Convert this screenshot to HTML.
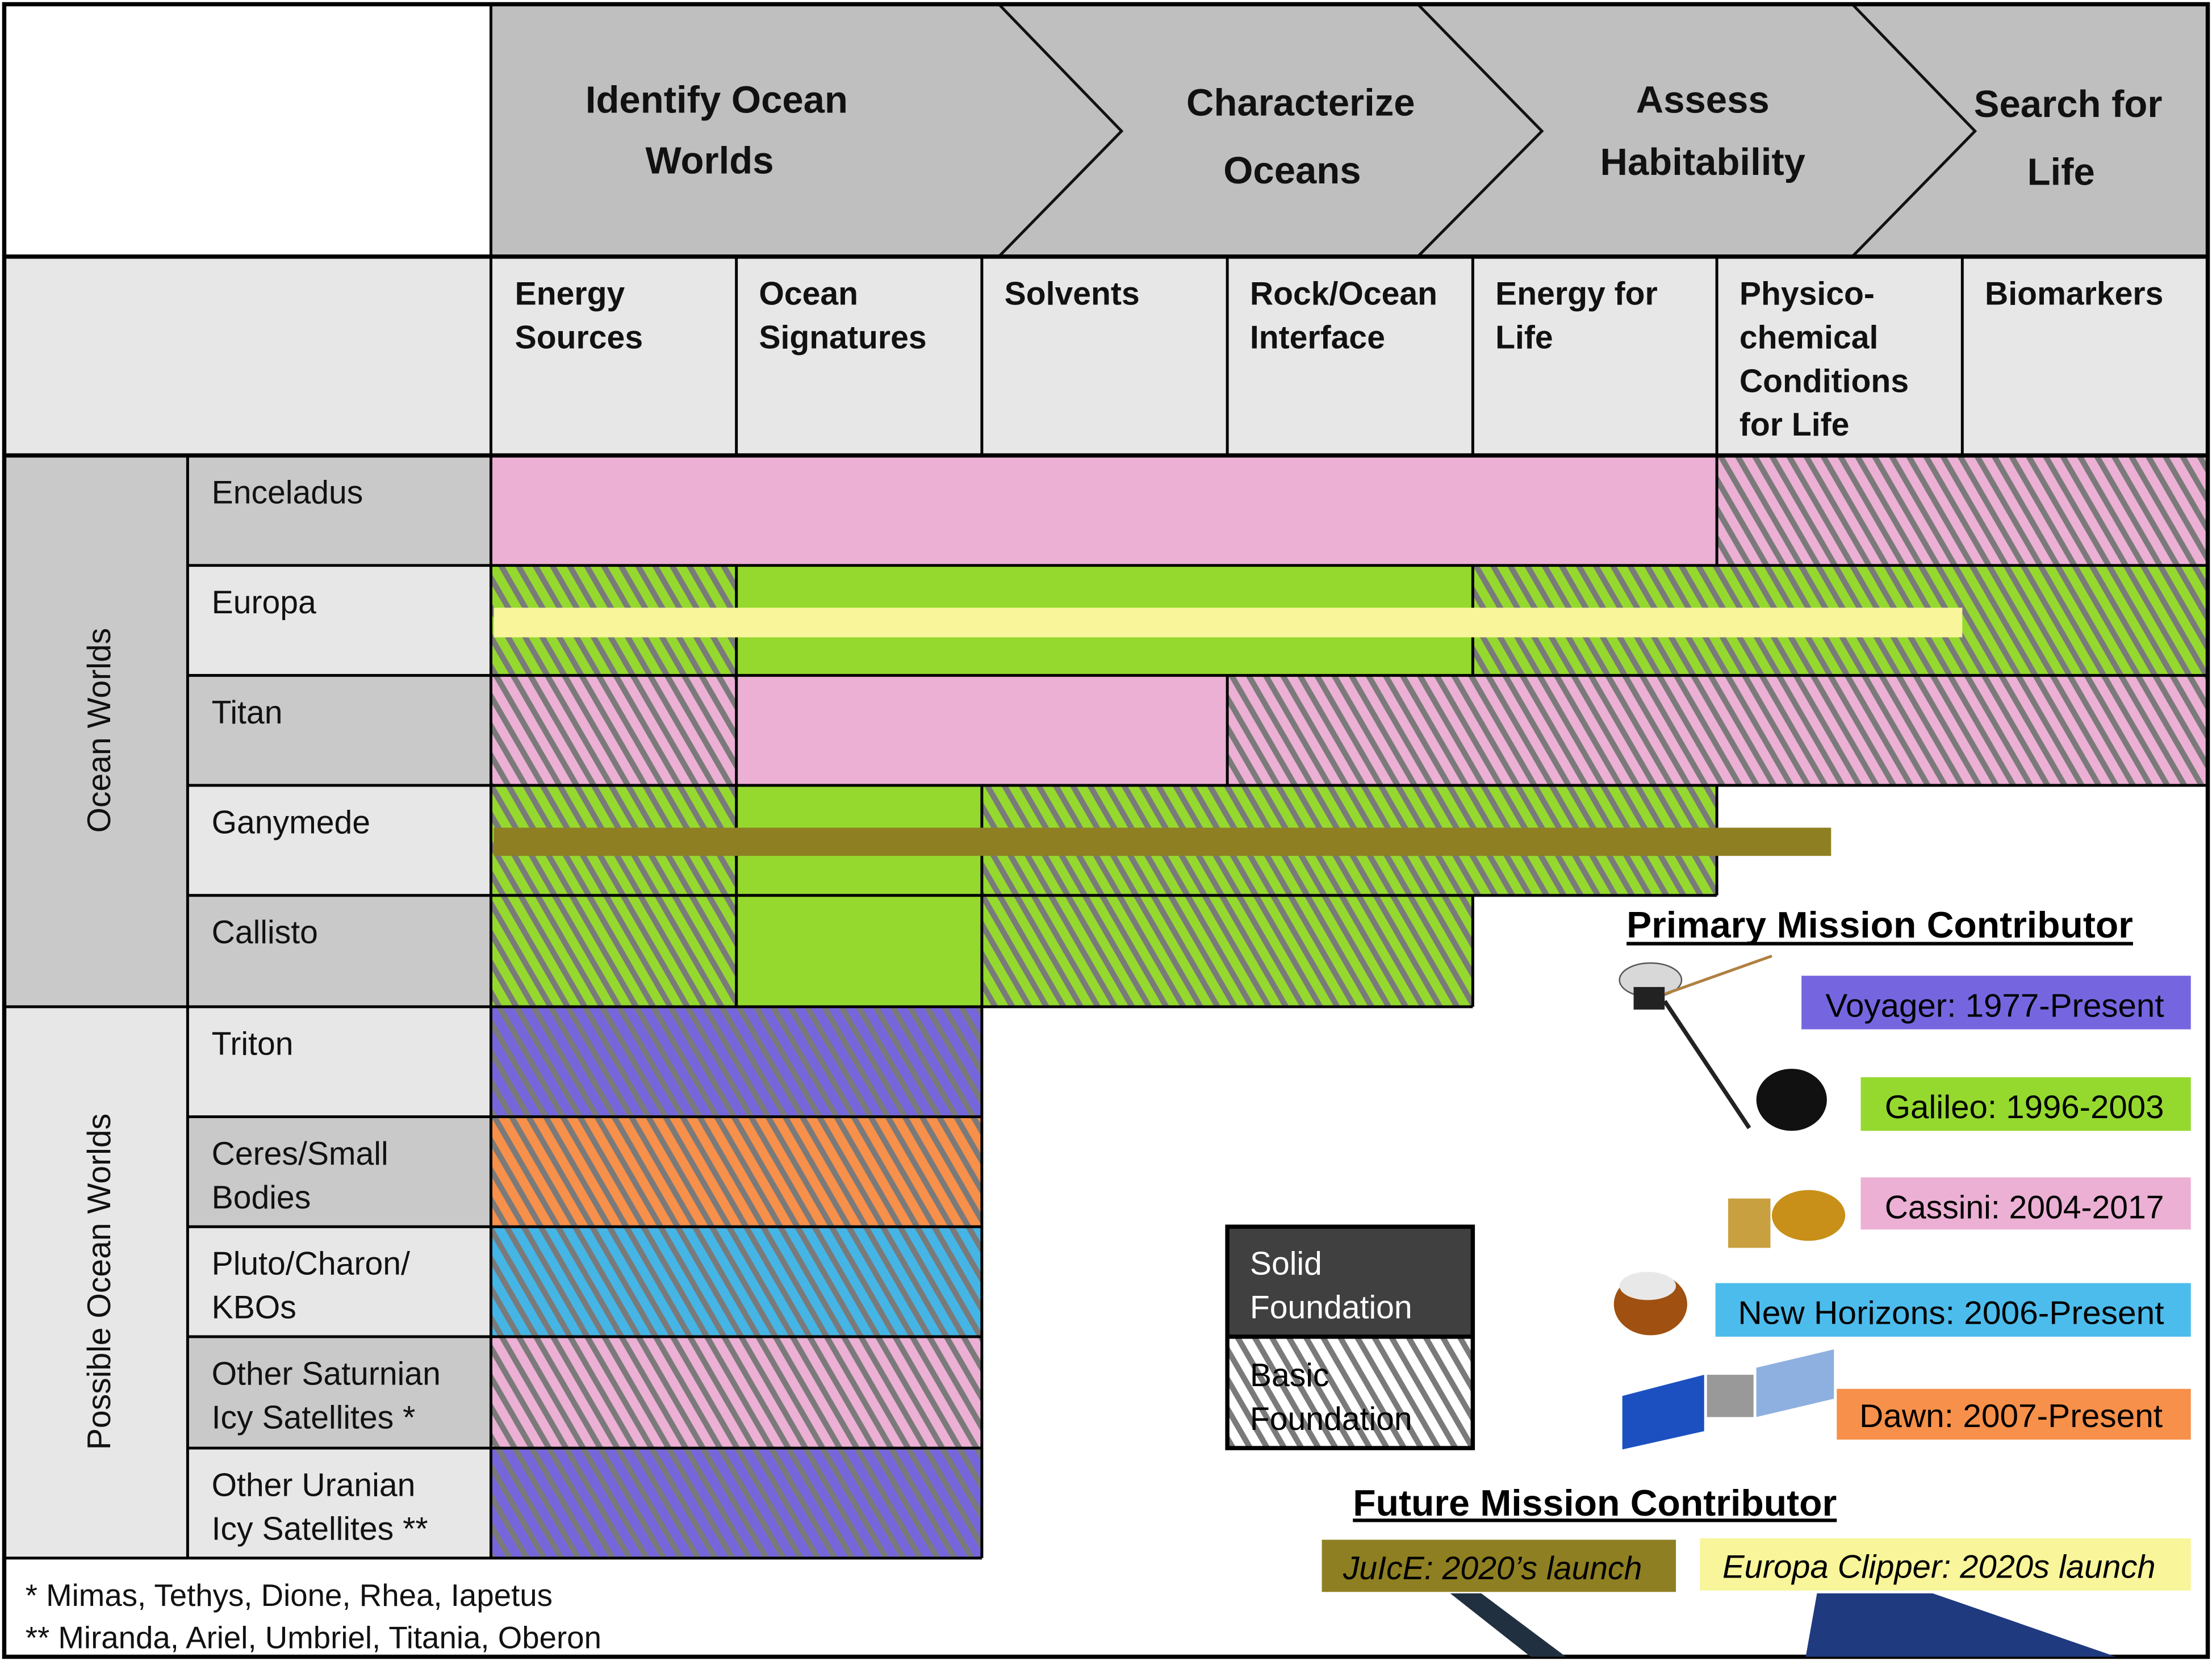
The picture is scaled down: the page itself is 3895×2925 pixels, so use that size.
<!DOCTYPE html>
<html><head><meta charset="utf-8"><style>html,body{margin:0;padding:0;background:#fff}svg{display:block}text{font-family:"Liberation Sans Narrow","Liberation Sans",sans-serif}</style></head>
<body>
<svg width="3895" height="2925" viewBox="0 0 1568 1178" preserveAspectRatio="none" xmlns="http://www.w3.org/2000/svg">
<defs>
<pattern id="hg" patternUnits="userSpaceOnUse" width="10.5" height="10.5" patternTransform="rotate(-30)"><rect width="10.5" height="10.5" fill="#95d92f"/><rect width="4" height="10.5" fill="#7a7a7a"/></pattern>
<pattern id="hp" patternUnits="userSpaceOnUse" width="10.5" height="10.5" patternTransform="rotate(-30)"><rect width="10.5" height="10.5" fill="#ecb0d4"/><rect width="4" height="10.5" fill="#7a7a7a"/></pattern>
<pattern id="hv" patternUnits="userSpaceOnUse" width="10.5" height="10.5" patternTransform="rotate(-30)"><rect width="10.5" height="10.5" fill="#7566dc"/><rect width="4" height="10.5" fill="#7a7a7a"/></pattern>
<pattern id="ho" patternUnits="userSpaceOnUse" width="10.5" height="10.5" patternTransform="rotate(-30)"><rect width="10.5" height="10.5" fill="#f7904a"/><rect width="4" height="10.5" fill="#7a7a7a"/></pattern>
<pattern id="hb" patternUnits="userSpaceOnUse" width="10.5" height="10.5" patternTransform="rotate(-30)"><rect width="10.5" height="10.5" fill="#45b5e5"/><rect width="4" height="10.5" fill="#7a7a7a"/></pattern>
<pattern id="hw" patternUnits="userSpaceOnUse" width="10.5" height="10.5" patternTransform="rotate(-30)"><rect width="10.5" height="10.5" fill="#fff"/><rect width="4" height="10.5" fill="#7a7a7a"/></pattern>
</defs>
<rect width="1568" height="1178" fill="#fff"/>
<rect x="348" y="3" width="1217" height="179" fill="#bfbfbf"/>
<g fill="none" stroke="#111" stroke-width="2">
<polyline points="708,3 795,93 708,182"/>
<polyline points="1005,3 1093,93 1005,182"/>
<polyline points="1313,3 1400,93 1313,182"/>
</g>
<g font-weight="bold" font-size="27" fill="#111" text-anchor="middle">
<text x="508" y="80">Identify Ocean</text><text x="503" y="123">Worlds</text>
<text x="922" y="82">Characterize</text><text x="916" y="130">Oceans</text>
<text x="1207" y="80">Assess</text><text x="1207" y="124">Habitability</text>
<text x="1466" y="83">Search for</text><text x="1461" y="131">Life</text>
</g>
<rect x="3" y="182" width="1562" height="141" fill="#e7e7e7"/>
<g font-weight="bold" font-size="23" fill="#111">
<text x="365" y="216">Energy</text><text x="365" y="247">Sources</text>
<text x="538" y="216">Ocean</text><text x="538" y="247">Signatures</text>
<text x="712" y="216">Solvents</text>
<text x="886" y="216">Rock/Ocean</text><text x="886" y="247">Interface</text>
<text x="1060" y="216">Energy for</text><text x="1060" y="247">Life</text>
<text x="1233" y="216">Physico-</text><text x="1233" y="247">chemical</text><text x="1233" y="278">Conditions</text><text x="1233" y="309">for Life</text>
<text x="1407" y="216">Biomarkers</text>
</g>
<rect x="3" y="323" width="130" height="391" fill="#c9c9c9"/>
<rect x="3" y="714" width="130" height="391" fill="#e7e7e7"/>
<g>
<rect x="133" y="323" width="215" height="78" fill="#c9c9c9"/>
<rect x="133" y="401" width="215" height="78" fill="#e7e7e7"/>
<rect x="133" y="479" width="215" height="78" fill="#c9c9c9"/>
<rect x="133" y="557" width="215" height="78" fill="#e7e7e7"/>
<rect x="133" y="635" width="215" height="79" fill="#c9c9c9"/>
<rect x="133" y="714" width="215" height="78" fill="#e7e7e7"/>
<rect x="133" y="792" width="215" height="78" fill="#c9c9c9"/>
<rect x="133" y="870" width="215" height="78" fill="#e7e7e7"/>
<rect x="133" y="948" width="215" height="79" fill="#c9c9c9"/>
<rect x="133" y="1027" width="215" height="78" fill="#e7e7e7"/>
</g>
<g font-size="23" fill="#111">
<text x="150" y="357">Enceladus</text>
<text x="150" y="435">Europa</text>
<text x="150" y="513">Titan</text>
<text x="150" y="591">Ganymede</text>
<text x="150" y="669">Callisto</text>
<text x="150" y="748">Triton</text>
<text x="150" y="826">Ceres/Small</text><text x="150" y="857">Bodies</text>
<text x="150" y="904">Pluto/Charon/</text><text x="150" y="935">KBOs</text>
<text x="150" y="982">Other Saturnian</text><text x="150" y="1013">Icy Satellites *</text>
<text x="150" y="1061">Other Uranian</text><text x="150" y="1092">Icy Satellites **</text>
<text transform="translate(78,518) rotate(-90)" text-anchor="middle">Ocean Worlds</text>
<text transform="translate(78,909) rotate(-90)" text-anchor="middle">Possible Ocean Worlds</text>
</g>
<rect x="348" y="323" width="869" height="78" fill="#ecb0d4"/>
<rect x="1217" y="323" width="348" height="78" fill="url(#hp)"/>
<rect x="348" y="401" width="174" height="78" fill="url(#hg)"/>
<rect x="522" y="401" width="522" height="78" fill="#95d92f"/>
<rect x="1044" y="401" width="521" height="78" fill="url(#hg)"/>
<rect x="348" y="479" width="174" height="78" fill="url(#hp)"/>
<rect x="522" y="479" width="348" height="78" fill="#ecb0d4"/>
<rect x="870" y="479" width="695" height="78" fill="url(#hp)"/>
<rect x="348" y="557" width="174" height="78" fill="url(#hg)"/>
<rect x="522" y="557" width="174" height="78" fill="#95d92f"/>
<rect x="696" y="557" width="521" height="78" fill="url(#hg)"/>
<rect x="348" y="635" width="174" height="79" fill="url(#hg)"/>
<rect x="522" y="635" width="174" height="79" fill="#95d92f"/>
<rect x="696" y="635" width="348" height="79" fill="url(#hg)"/>
<rect x="348" y="714" width="348" height="78" fill="url(#hv)"/>
<rect x="348" y="792" width="348" height="78" fill="url(#ho)"/>
<rect x="348" y="870" width="348" height="78" fill="url(#hb)"/>
<rect x="348" y="948" width="348" height="79" fill="url(#hp)"/>
<rect x="348" y="1027" width="348" height="78" fill="url(#hv)"/>
<g stroke="#000" stroke-width="2" fill="none">
<rect x="3" y="3" width="1562" height="1172" stroke-width="3"/>
<line x1="3" y1="182" x2="1565" y2="182" stroke-width="3"/>
<line x1="348" y1="3" x2="348" y2="1105"/>
<line x1="3" y1="323" x2="1565" y2="323" stroke-width="3"/>
<line x1="522" y1="182" x2="522" y2="323"/><line x1="522" y1="401" x2="522" y2="714"/>
<line x1="696" y1="182" x2="696" y2="323"/><line x1="696" y1="557" x2="696" y2="1105"/>
<line x1="870" y1="182" x2="870" y2="323"/><line x1="870" y1="479" x2="870" y2="557"/>
<line x1="1044" y1="182" x2="1044" y2="323"/><line x1="1044" y1="401" x2="1044" y2="479"/><line x1="1044" y1="635" x2="1044" y2="714"/>
<line x1="1217" y1="182" x2="1217" y2="401"/><line x1="1217" y1="557" x2="1217" y2="635"/>
<line x1="1391" y1="182" x2="1391" y2="323"/>
<line x1="133" y1="323" x2="133" y2="1105"/>
<line x1="133" y1="401" x2="1565" y2="401"/>
<line x1="133" y1="479" x2="1565" y2="479"/>
<line x1="133" y1="557" x2="1565" y2="557"/>
<line x1="133" y1="635" x2="1217" y2="635"/>
<line x1="3" y1="714" x2="1044" y2="714"/>
<line x1="133" y1="792" x2="696" y2="792"/>
<line x1="133" y1="870" x2="696" y2="870"/>
<line x1="133" y1="948" x2="696" y2="948"/>
<line x1="133" y1="1027" x2="696" y2="1027"/>
<line x1="3" y1="1105" x2="696" y2="1105"/>
</g>
<rect x="350" y="431" width="1041" height="21" fill="#f8f59a"/>
<rect x="350" y="587" width="948" height="20" fill="#8e7f22"/>
<g font-size="22" fill="#111">
<text x="18" y="1139">* Mimas, Tethys, Dione, Rhea, Iapetus</text>
<text x="18" y="1169">** Miranda, Ariel, Umbriel, Titania, Oberon</text>
</g>
<text x="1153" y="665" font-size="26" font-weight="bold" fill="#000" textLength="359" lengthAdjust="spacingAndGlyphs">Primary Mission Contributor</text>
<rect x="1153" y="668" width="359" height="2.5" fill="#000"/>
<rect x="1277" y="692" width="276" height="38" fill="#7566e0"/>
<text x="1294" y="721" font-size="23" textLength="240" lengthAdjust="spacingAndGlyphs">Voyager: 1977-Present</text>
<rect x="1319" y="764" width="234" height="38" fill="#95d92f"/>
<text x="1336" y="793" font-size="23" textLength="198" lengthAdjust="spacingAndGlyphs">Galileo: 1996-2003</text>
<rect x="1319" y="835" width="234" height="37" fill="#ecb0d4"/>
<text x="1336" y="864" font-size="23" textLength="198" lengthAdjust="spacingAndGlyphs">Cassini: 2004-2017</text>
<rect x="1216" y="910" width="337" height="38" fill="#4cbcec"/>
<text x="1232" y="939" font-size="23" textLength="302" lengthAdjust="spacingAndGlyphs">New Horizons: 2006-Present</text>
<rect x="1302" y="985" width="251" height="36" fill="#f7904a"/>
<text x="1318" y="1012" font-size="23" textLength="215" lengthAdjust="spacingAndGlyphs">Dawn: 2007-Present</text>
<g>
<ellipse cx="1170" cy="695" rx="22" ry="12" fill="#d8d8d8" stroke="#555"/>
<rect x="1158" y="700" width="22" height="16" fill="#222"/>
<line x1="1180" y1="705" x2="1256" y2="678" stroke="#b08040" stroke-width="2"/>
<line x1="1180" y1="710" x2="1240" y2="800" stroke="#222" stroke-width="3"/>
<ellipse cx="1270" cy="780" rx="25" ry="22" fill="#111"/>
<rect x="1225" y="850" width="30" height="35" fill="#c9a040"/>
<ellipse cx="1282" cy="862" rx="26" ry="18" fill="#c89018"/>
<ellipse cx="1170" cy="925" rx="26" ry="22" fill="#a05010"/>
<ellipse cx="1168" cy="912" rx="20" ry="10" fill="#e8e8e8"/>
<polygon points="1150,990 1208,975 1208,1015 1150,1028" fill="#1c50c0"/>
<polygon points="1245,970 1300,957 1300,992 1245,1005" fill="#8eb0e0"/>
<rect x="1210" y="975" width="33" height="30" fill="#999"/>
<polygon points="1028,1130 1050,1130 1110,1175 1085,1175" fill="#203040"/>
<polygon points="1288,1130 1370,1130 1500,1175 1280,1175" fill="#203a80"/>
</g>
<rect x="870" y="870" width="174" height="78" fill="#404040"/>
<rect x="870" y="948" width="174" height="79" fill="url(#hw)"/>
<rect x="870" y="870" width="174" height="157" fill="none" stroke="#000" stroke-width="3"/>
<line x1="870" y1="948" x2="1044" y2="948" stroke="#000" stroke-width="3"/>
<g font-size="23">
<text x="886" y="904" fill="#fff">Solid</text><text x="886" y="935" fill="#fff">Foundation</text>
<text x="886" y="983" fill="#000">Basic</text><text x="886" y="1014" fill="#000">Foundation</text>
</g>
<text x="959" y="1075" font-size="26" font-weight="bold" fill="#000" textLength="343" lengthAdjust="spacingAndGlyphs">Future Mission Contributor</text>
<rect x="959" y="1077" width="343" height="2.5" fill="#000"/>
<rect x="937" y="1092" width="251" height="37" fill="#8e7f22"/>
<text x="952" y="1120" font-size="23" font-style="italic" textLength="212" lengthAdjust="spacingAndGlyphs">JuIcE: 2020’s launch</text>
<rect x="1205" y="1091" width="348" height="37" fill="#f8f59a"/>
<text x="1221" y="1119" font-size="23" font-style="italic" textLength="307" lengthAdjust="spacingAndGlyphs">Europa Clipper: 2020s launch</text>
</svg>
</body></html>
